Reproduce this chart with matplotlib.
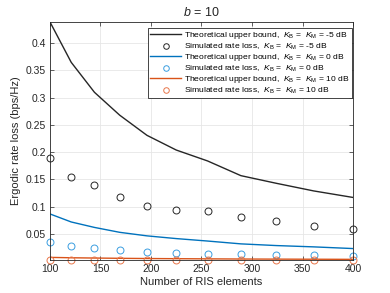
import matplotlib
matplotlib.use("Agg")
import matplotlib.pyplot as plt

plt.rcParams['font.family'] = ['Liberation Sans', 'DejaVu Sans']
plt.rcParams['mathtext.fontset'] = 'custom'
plt.rcParams['mathtext.rm'] = 'Liberation Sans'
plt.rcParams['mathtext.it'] = 'Liberation Sans:italic'

N = [100, 121, 144, 169, 196, 225, 256, 289, 324, 361, 400]
theo_m5 = [0.439, 0.365, 0.310, 0.268, 0.231, 0.204, 0.184, 0.157, 0.143, 0.129, 0.117]
sim_m5 = [0.190, 0.155, 0.140, 0.117, 0.102, 0.094, 0.093, 0.082, 0.073, 0.065, 0.060]
theo_0 = [0.0867, 0.072, 0.062, 0.053, 0.0465, 0.0415, 0.037, 0.0318, 0.0287, 0.0263, 0.0232]
sim_0 = [0.0349, 0.028, 0.025, 0.0208, 0.0177, 0.0158, 0.014, 0.0129, 0.0116, 0.011, 0.0098]
theo_10 = [0.0070, 0.0063, 0.0058, 0.0053, 0.0049, 0.0046, 0.0043, 0.0040, 0.0038, 0.0036, 0.0034]
sim_10 = [0.0028, 0.0027, 0.0026, 0.0026, 0.0025, 0.0024, 0.0024, 0.0023, 0.0023, 0.0022, 0.0022]
labels_K = ["-5", "0", "10"]

c_black = "#262626"
c_blue = "#0072BD"
c_blue_m = "#3b9ee0"
c_orange = "#D95319"
c_orange_m = "#e8764a"

fig = plt.figure(figsize=(3.9, 2.93), dpi=100)
ax = fig.add_axes([50/390, 1-260/293, 303/390, 238/293])

def lab(kind, k):
    return kind + r",  $K_\mathrm{B}$ =  $K_\mathrm{M}$ = " + k + " dB"

ax.plot(N, theo_m5, color=c_black, lw=1.0, label=lab("Theoretical upper bound", labels_K[0]))
ax.plot(N, sim_m5, 'o', mfc='none', mec=c_black, ms=5, mew=0.7, clip_on=False,
        label=lab("Simulated rate loss", labels_K[0]))
ax.plot(N, theo_0, color=c_blue, lw=1.0, label=lab("Theoretical upper bound", labels_K[1]))
ax.plot(N, sim_0, 'o', mfc='none', mec=c_blue_m, ms=5, mew=0.7, clip_on=False,
        label=lab("Simulated rate loss", labels_K[1]))
ax.plot(N, theo_10, color=c_orange, lw=1.0, label=lab("Theoretical upper bound", labels_K[2]))
ax.plot(N, sim_10, 'o', mfc='none', mec=c_orange_m, ms=5, mew=0.7, clip_on=False,
        label=lab("Simulated rate loss", labels_K[2]))

ax.set_xlim(100, 400)
ax.set_ylim(0.0022, 0.439)
ax.set_xticks([100, 150, 200, 250, 300, 350, 400])
ax.set_yticks([0.05, 0.1, 0.15, 0.2, 0.25, 0.3, 0.35, 0.4])
ax.set_yticklabels(["0.05", "0.1", "0.15", "0.2", "0.25", "0.3", "0.35", "0.4"])
ax.grid(True, color="#e6e6e6", lw=0.6)
ax.set_axisbelow(True)
ax.tick_params(direction="in", length=3, width=0.5, labelsize=7.5, colors="#262626",
               top=True, right=True, pad=3)
for s in ax.spines.values():
    s.set_linewidth(0.6)
    s.set_color("#262626")
ax.set_xlabel("Number of RIS elements", fontsize=8, color="#262626", labelpad=2)
ax.set_ylabel("Ergodic rate loss (bps/Hz)", fontsize=8, color="#262626", labelpad=3)
ax.set_title(r"$b$ = 10", fontsize=9, color="#262626", pad=4)

leg = ax.legend(loc="upper right", fontsize=6.1, handlelength=3.6, handletextpad=0.4,
                labelspacing=0.05, borderpad=0.3, markerscale=0.8, fancybox=False,
                framealpha=1, edgecolor="#262626", bbox_to_anchor=(1.0, 0.98),
                borderaxespad=0.1)
leg.get_frame().set_linewidth(0.6)

fig.savefig("out.png", dpi=100)
